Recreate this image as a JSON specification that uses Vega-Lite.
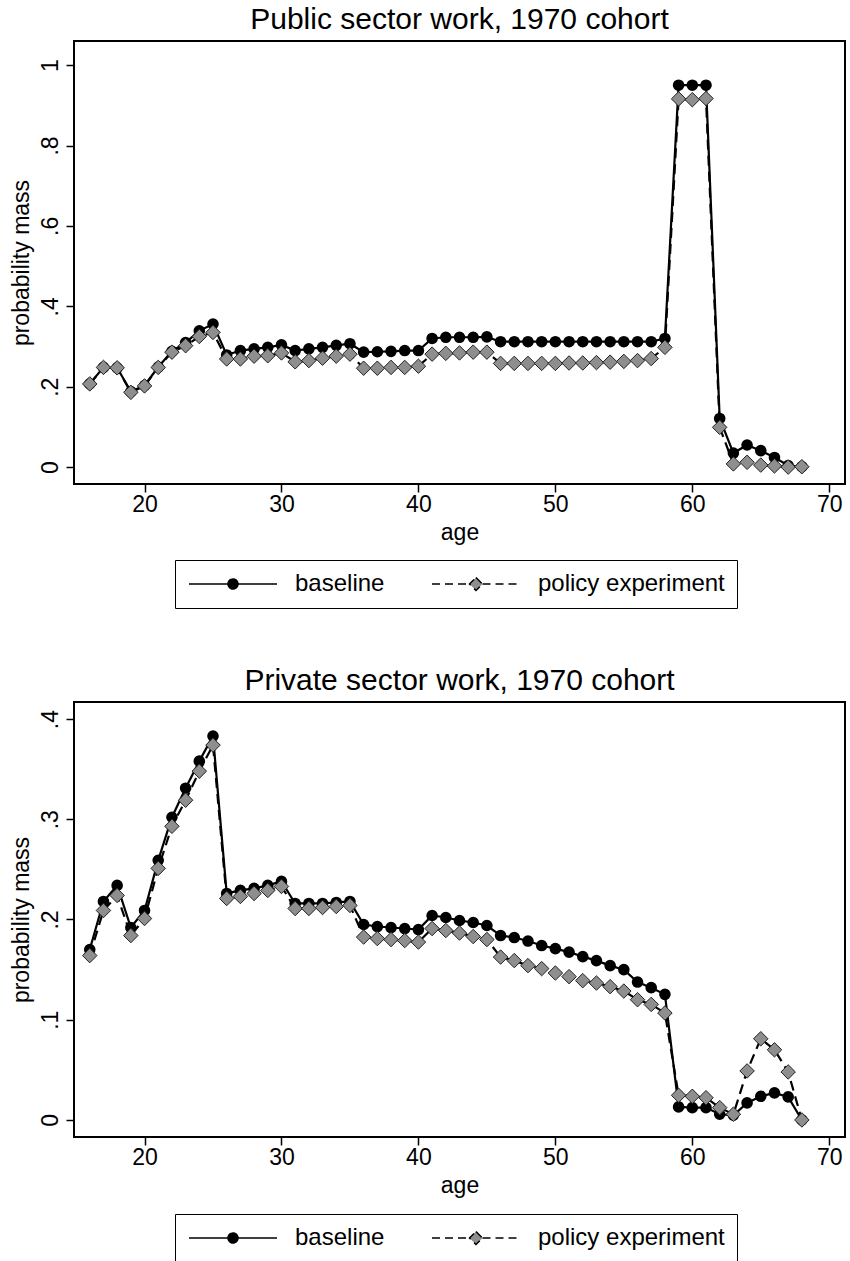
{
  "$schema": "https://vega.github.io/schema/vega-lite/v6.json",
  "background": "white",
  "padding": {"left": 8, "right": 3, "top": 4, "bottom": 0},
  "config": {
    "font": "Liberation Sans",
    "view": {"stroke": "black", "strokeWidth": 2},
    "axis": {"grid": false, "domain": false, "tickColor": "black", "tickWidth": 1.5, "tickSize": 8, "labelColor": "black", "labelFontSize": 23, "titleFontSize": 23, "titleFontWeight": "normal", "titleColor": "black", "labelFont": "Liberation Sans", "titleFont": "Liberation Sans"},
    "title": {"fontSize": 30, "fontWeight": "normal", "color": "black", "font": "Liberation Sans", "anchor": "middle"}
  },
  "datasets": {
    "public": [
      {"age": 16, "baseline": 0.207, "policy experiment": 0.207},
      {"age": 17, "baseline": 0.248, "policy experiment": 0.248},
      {"age": 18, "baseline": 0.247, "policy experiment": 0.247},
      {"age": 19, "baseline": 0.188, "policy experiment": 0.186},
      {"age": 20, "baseline": 0.203, "policy experiment": 0.202},
      {"age": 21, "baseline": 0.249, "policy experiment": 0.248},
      {"age": 22, "baseline": 0.288, "policy experiment": 0.286},
      {"age": 23, "baseline": 0.310, "policy experiment": 0.302},
      {"age": 24, "baseline": 0.339, "policy experiment": 0.325},
      {"age": 25, "baseline": 0.356, "policy experiment": 0.335},
      {"age": 26, "baseline": 0.279, "policy experiment": 0.269},
      {"age": 27, "baseline": 0.290, "policy experiment": 0.269},
      {"age": 28, "baseline": 0.294, "policy experiment": 0.276},
      {"age": 29, "baseline": 0.298, "policy experiment": 0.277},
      {"age": 30, "baseline": 0.304, "policy experiment": 0.284},
      {"age": 31, "baseline": 0.290, "policy experiment": 0.262},
      {"age": 32, "baseline": 0.294, "policy experiment": 0.265},
      {"age": 33, "baseline": 0.298, "policy experiment": 0.271},
      {"age": 34, "baseline": 0.303, "policy experiment": 0.276},
      {"age": 35, "baseline": 0.307, "policy experiment": 0.281},
      {"age": 36, "baseline": 0.286, "policy experiment": 0.246},
      {"age": 37, "baseline": 0.287, "policy experiment": 0.246},
      {"age": 38, "baseline": 0.288, "policy experiment": 0.248},
      {"age": 39, "baseline": 0.290, "policy experiment": 0.248},
      {"age": 40, "baseline": 0.290, "policy experiment": 0.251},
      {"age": 41, "baseline": 0.320, "policy experiment": 0.281},
      {"age": 42, "baseline": 0.323, "policy experiment": 0.283},
      {"age": 43, "baseline": 0.323, "policy experiment": 0.284},
      {"age": 44, "baseline": 0.323, "policy experiment": 0.286},
      {"age": 45, "baseline": 0.324, "policy experiment": 0.286},
      {"age": 46, "baseline": 0.312, "policy experiment": 0.258},
      {"age": 47, "baseline": 0.312, "policy experiment": 0.258},
      {"age": 48, "baseline": 0.312, "policy experiment": 0.258},
      {"age": 49, "baseline": 0.312, "policy experiment": 0.258},
      {"age": 50, "baseline": 0.312, "policy experiment": 0.258},
      {"age": 51, "baseline": 0.312, "policy experiment": 0.259},
      {"age": 52, "baseline": 0.312, "policy experiment": 0.259},
      {"age": 53, "baseline": 0.312, "policy experiment": 0.260},
      {"age": 54, "baseline": 0.312, "policy experiment": 0.261},
      {"age": 55, "baseline": 0.312, "policy experiment": 0.263},
      {"age": 56, "baseline": 0.312, "policy experiment": 0.265},
      {"age": 57, "baseline": 0.312, "policy experiment": 0.270},
      {"age": 58, "baseline": 0.320, "policy experiment": 0.298},
      {"age": 59, "baseline": 0.950, "policy experiment": 0.916},
      {"age": 60, "baseline": 0.950, "policy experiment": 0.914},
      {"age": 61, "baseline": 0.950, "policy experiment": 0.917},
      {"age": 62, "baseline": 0.121, "policy experiment": 0.099},
      {"age": 63, "baseline": 0.035, "policy experiment": 0.008},
      {"age": 64, "baseline": 0.055, "policy experiment": 0.012},
      {"age": 65, "baseline": 0.041, "policy experiment": 0.005},
      {"age": 66, "baseline": 0.024, "policy experiment": 0.003},
      {"age": 67, "baseline": 0.004, "policy experiment": 0.000},
      {"age": 68, "baseline": 0.001, "policy experiment": 0.001}
    ],
    "private": [
      {"age": 16, "baseline": 0.170, "policy experiment": 0.164},
      {"age": 17, "baseline": 0.218, "policy experiment": 0.209},
      {"age": 18, "baseline": 0.234, "policy experiment": 0.224},
      {"age": 19, "baseline": 0.192, "policy experiment": 0.184},
      {"age": 20, "baseline": 0.209, "policy experiment": 0.201},
      {"age": 21, "baseline": 0.259, "policy experiment": 0.251},
      {"age": 22, "baseline": 0.302, "policy experiment": 0.293},
      {"age": 23, "baseline": 0.331, "policy experiment": 0.319},
      {"age": 24, "baseline": 0.358, "policy experiment": 0.348},
      {"age": 25, "baseline": 0.383, "policy experiment": 0.374},
      {"age": 26, "baseline": 0.226, "policy experiment": 0.221},
      {"age": 27, "baseline": 0.229, "policy experiment": 0.223},
      {"age": 28, "baseline": 0.231, "policy experiment": 0.226},
      {"age": 29, "baseline": 0.234, "policy experiment": 0.229},
      {"age": 30, "baseline": 0.238, "policy experiment": 0.233},
      {"age": 31, "baseline": 0.216, "policy experiment": 0.211},
      {"age": 32, "baseline": 0.216, "policy experiment": 0.211},
      {"age": 33, "baseline": 0.216, "policy experiment": 0.212},
      {"age": 34, "baseline": 0.217, "policy experiment": 0.213},
      {"age": 35, "baseline": 0.218, "policy experiment": 0.214},
      {"age": 36, "baseline": 0.195, "policy experiment": 0.1825},
      {"age": 37, "baseline": 0.193, "policy experiment": 0.181},
      {"age": 38, "baseline": 0.192, "policy experiment": 0.180},
      {"age": 39, "baseline": 0.191, "policy experiment": 0.179},
      {"age": 40, "baseline": 0.190, "policy experiment": 0.1775},
      {"age": 41, "baseline": 0.204, "policy experiment": 0.191},
      {"age": 42, "baseline": 0.202, "policy experiment": 0.189},
      {"age": 43, "baseline": 0.199, "policy experiment": 0.1865},
      {"age": 44, "baseline": 0.197, "policy experiment": 0.183},
      {"age": 45, "baseline": 0.194, "policy experiment": 0.180},
      {"age": 46, "baseline": 0.184, "policy experiment": 0.1625},
      {"age": 47, "baseline": 0.182, "policy experiment": 0.159},
      {"age": 48, "baseline": 0.1785, "policy experiment": 0.154},
      {"age": 49, "baseline": 0.174, "policy experiment": 0.151},
      {"age": 50, "baseline": 0.171, "policy experiment": 0.1466},
      {"age": 51, "baseline": 0.1675, "policy experiment": 0.143},
      {"age": 52, "baseline": 0.163, "policy experiment": 0.139},
      {"age": 53, "baseline": 0.159, "policy experiment": 0.1366},
      {"age": 54, "baseline": 0.154, "policy experiment": 0.133},
      {"age": 55, "baseline": 0.150, "policy experiment": 0.1286},
      {"age": 56, "baseline": 0.1376, "policy experiment": 0.120},
      {"age": 57, "baseline": 0.132, "policy experiment": 0.1153},
      {"age": 58, "baseline": 0.1253, "policy experiment": 0.1067},
      {"age": 59, "baseline": 0.013, "policy experiment": 0.0246},
      {"age": 60, "baseline": 0.0123, "policy experiment": 0.0236},
      {"age": 61, "baseline": 0.0123, "policy experiment": 0.0222},
      {"age": 62, "baseline": 0.0057, "policy experiment": 0.0123},
      {"age": 63, "baseline": 0.0047, "policy experiment": 0.0057},
      {"age": 64, "baseline": 0.017, "policy experiment": 0.0489},
      {"age": 65, "baseline": 0.0236, "policy experiment": 0.081},
      {"age": 66, "baseline": 0.027, "policy experiment": 0.070},
      {"age": 67, "baseline": 0.023, "policy experiment": 0.0479},
      {"age": 68, "baseline": 0.0, "policy experiment": 0.0}
    ]
  },
  "spacing": 55,
  "vconcat": [
    {
      "title": {"text": "Public sector work, 1970 cohort", "offset": 6},
      "width": 771,
      "height": 443,
      "data": {"name": "public"},
      "transform": [{"fold": ["baseline", "policy experiment"], "as": ["series", "p"]}],
      "encoding": {
        "x": {"field": "age", "type": "quantitative", "scale": {"domain": [14.85, 71.15], "nice": false, "zero": false}, "axis": {"values": [20, 30, 40, 50, 60, 70], "title": "age", "labelPadding": 1, "titlePadding": 5}},
        "y": {"field": "p", "type": "quantitative", "scale": {"domain": [-0.042, 1.06], "nice": false, "zero": false}, "axis": {"values": [0, 0.2, 0.4, 0.6, 0.8, 1], "title": "probability mass", "labelAngle": -90, "labelAlign": "center", "labelBaseline": "bottom", "labelExpr": "replace(format(datum.value, '~g'), '0.', '.')", "labelPadding": 4, "titlePadding": 6}}
      },
      "layer": [
        {"transform": [{"filter": "datum.series === 'baseline'"}], "mark": {"type": "line", "color": "black", "strokeWidth": 2.2}},
        {"transform": [{"filter": "datum.series === 'baseline'"}], "mark": {"type": "point", "shape": "circle", "filled": true, "fill": "black", "size": 135, "opacity": 1}},
        {"transform": [{"filter": "datum.series === 'policy experiment'"}], "mark": {"type": "line", "color": "black", "strokeWidth": 2.2, "strokeDash": [10, 6]}},
        {"transform": [{"filter": "datum.series === 'policy experiment'"}], "mark": {"type": "point", "shape": "diamond", "filled": true, "fill": "#8e8e8e", "stroke": "#222222", "strokeWidth": 1, "size": 210, "opacity": 1}},
        {
          "transform": [{"filter": "false"}],
          "mark": {"type": "point", "filled": true, "stroke": "black", "opacity": 1},
          "encoding": {
            "shape": {"field": "series", "type": "nominal", "scale": {"domain": ["baseline", "policy experiment"], "range": ["M-1,0L2.9,0M3.9,0L7.8,0M2.9,0A0.5,0.5,0,1,0,3.9,0A0.5,0.5,0,1,0,2.9,0Z", "M-1,0L2.75,0M4.05,0L7.8,0M3.4,-0.65L4.05,0L3.4,0.65L2.75,0Z"]},
              "legend": {"orient": "none", "legendX": 101, "legendY": 519, "direction": "horizontal", "title": null, "strokeColor": "black", "padding": 12, "symbolSize": 400, "labelFontSize": 24, "labelLimit": 0, "labelOffset": 84, "columnPadding": 44, "labelColor": "black", "labelFont": "Liberation Sans", "symbolOpacity": 1, "encode": {"symbols": {"update": {"stroke": {"value": "black"}, "strokeWidth": {"value": 1.5}, "opacity": {"value": 1}}}}}},
            "fill": {"field": "series", "type": "nominal", "scale": {"domain": ["baseline", "policy experiment"], "range": ["black", "#8e8e8e"]}},
            "strokeDash": {"field": "series", "type": "nominal", "scale": {"domain": ["baseline", "policy experiment"], "range": [[1, 0], [8, 5]]}}
          }
        }
      ],
      "resolve": {"scale": {"shape": "independent", "fill": "independent", "strokeDash": "independent"}}
    },
    {
      "title": {"text": "Private sector work, 1970 cohort", "offset": 6},
      "width": 771,
      "height": 435,
      "data": {"name": "private"},
      "transform": [{"fold": ["baseline", "policy experiment"], "as": ["series", "p"]}],
      "encoding": {
        "x": {"field": "age", "type": "quantitative", "scale": {"domain": [14.85, 71.15], "nice": false, "zero": false}, "axis": {"values": [20, 30, 40, 50, 60, 70], "title": "age", "labelPadding": 1, "titlePadding": 5}},
        "y": {"field": "p", "type": "quantitative", "scale": {"domain": [-0.017, 0.417], "nice": false, "zero": false}, "axis": {"values": [0, 0.1, 0.2, 0.3, 0.4], "title": "probability mass", "labelAngle": -90, "labelAlign": "center", "labelBaseline": "bottom", "labelExpr": "replace(format(datum.value, '~g'), '0.', '.')", "labelPadding": 4, "titlePadding": 6}}
      },
      "layer": [
        {"transform": [{"filter": "datum.series === 'baseline'"}], "mark": {"type": "line", "color": "black", "strokeWidth": 2.2}},
        {"transform": [{"filter": "datum.series === 'baseline'"}], "mark": {"type": "point", "shape": "circle", "filled": true, "fill": "black", "size": 135, "opacity": 1}},
        {"transform": [{"filter": "datum.series === 'policy experiment'"}], "mark": {"type": "line", "color": "black", "strokeWidth": 2.2, "strokeDash": [10, 6]}},
        {"transform": [{"filter": "datum.series === 'policy experiment'"}], "mark": {"type": "point", "shape": "diamond", "filled": true, "fill": "#8e8e8e", "stroke": "#222222", "strokeWidth": 1, "size": 210, "opacity": 1}},
        {
          "transform": [{"filter": "false"}],
          "mark": {"type": "point", "filled": true, "stroke": "black", "opacity": 1},
          "encoding": {
            "shape": {"field": "series", "type": "nominal", "scale": {"domain": ["baseline", "policy experiment"], "range": ["M-1,0L2.9,0M3.9,0L7.8,0M2.9,0A0.5,0.5,0,1,0,3.9,0A0.5,0.5,0,1,0,2.9,0Z", "M-1,0L2.75,0M4.05,0L7.8,0M3.4,-0.65L4.05,0L3.4,0.65L2.75,0Z"]},
              "legend": {"orient": "none", "legendX": 101, "legendY": 512, "direction": "horizontal", "title": null, "strokeColor": "black", "padding": 12, "symbolSize": 400, "labelFontSize": 24, "labelLimit": 0, "labelOffset": 84, "columnPadding": 44, "labelColor": "black", "labelFont": "Liberation Sans", "symbolOpacity": 1, "encode": {"symbols": {"update": {"stroke": {"value": "black"}, "strokeWidth": {"value": 1.5}, "opacity": {"value": 1}}}}}},
            "fill": {"field": "series", "type": "nominal", "scale": {"domain": ["baseline", "policy experiment"], "range": ["black", "#8e8e8e"]}},
            "strokeDash": {"field": "series", "type": "nominal", "scale": {"domain": ["baseline", "policy experiment"], "range": [[1, 0], [8, 5]]}}
          }
        }
      ],
      "resolve": {"scale": {"shape": "independent", "fill": "independent", "strokeDash": "independent"}}
    }
  ]
}
